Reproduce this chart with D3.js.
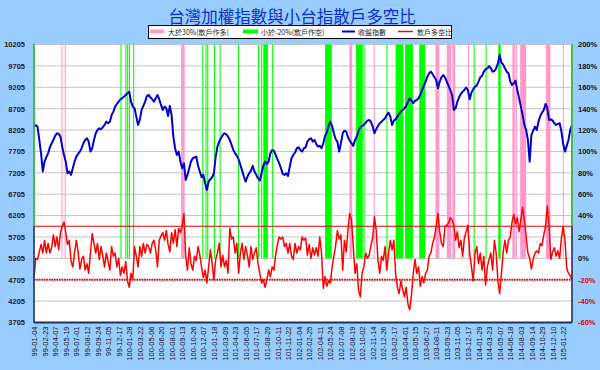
<!DOCTYPE html>
<html>
<head>
<meta charset="utf-8">
<script src="https://cdn.jsdelivr.net/npm/d3@7"></script>
<style>
  body { margin: 0; background: #99ccff; }
  svg { display: block; }
</style>
</head>
<body>
<div id="chart"></div>
<script>
// x axis labels, one every 30 trading days
var dateLabels = ["99-01-04","99-02-23","99-04-07","99-05-19","99-07-01","99-08-12","99-09-24","99-11-05","99-12-17",
  "100-01-28","100-03-22","100-05-06","100-06-20","100-08-01","100-09-13","100-10-26","100-12-07",
  "101-01-18","101-03-09","101-04-23","101-06-05","101-07-17","101-08-29","101-10-11","101-11-22",
  "102-01-04","102-02-25","102-04-11","102-05-24","102-07-08","102-08-19","102-10-02","102-11-14","102-12-26",
  "103-02-17","103-04-01","103-05-15","103-06-27","103-08-11","103-09-23","103-11-05","103-12-17",
  "104-01-29","104-03-23","104-05-07","104-06-18","104-08-03","104-09-14","104-10-29","104-12-10","105-01-22"];

var leftTicks = [3705,4205,4705,5205,5705,6205,6705,7205,7705,8205,8705,9205,9705,10205];
var rightTicks = [-60,-40,-20,0,20,40,60,80,100,120,140,160,180,200];

// 收盤指數, one value every 5 trading days
var closeIndex = [
  8285,8320,8280,7974,7660,7234,7468,7570,7660,7800,
  7896,7974,8070,8130,8115,8052,7818,7623,7468,7195,
  7234,7156,7312,7468,7584,7646,7700,7780,7896,7974,
  8013,7935,7701,7779,7974,8130,8207,8246,8225,8270,
  8324,8402,8363,8400,8558,8636,8753,8815,8869,8925,
  8947,8986,9025,9064,9103,8869,8753,8714,8519,8324,
  8441,8675,8770,8869,9000,9025,8970,8925,8869,8947,
  9025,8925,8792,8675,8753,8714,8535,8770,8558,8052,
  7779,7623,7700,7468,7312,7429,7039,7156,7312,7468,
  7546,7565,7584,7370,7234,7100,7156,6961,6805,7000,
  7055,7100,7195,7584,7818,7935,8013,8091,8130,8105,
  8052,7974,7857,7740,7660,7600,7520,7390,7257,7117,
  7000,7117,7195,7257,7370,7234,7156,7078,7023,7195,
  7370,7468,7410,7468,7662,7740,7725,7623,7520,7429,
  7312,7180,7156,7195,7130,7351,7546,7623,7680,7779,
  7800,7740,7700,7779,7800,7935,7990,8013,7935,7974,
  7880,7818,7835,7779,7896,8070,8145,8300,8402,8300,
  8130,7990,7935,7701,7896,8130,8190,8169,8035,7960,
  7896,7835,7974,8052,8190,8270,8300,8324,8380,8425,
  8441,8402,8285,8130,8225,8300,8363,8395,8441,8480,
  8558,8612,8519,8324,8425,8455,8519,8580,8636,8675,
  8714,8770,8869,8947,8893,8830,8893,8908,8947,9025,
  9142,9235,9337,9453,9531,9570,9508,9438,9376,9181,
  9337,9438,9492,9438,9337,9235,9142,9025,8675,8714,
  8869,8970,9050,9103,9142,9200,9142,8925,9080,9160,
  9220,9250,9337,9438,9470,9570,9625,9648,9700,9648,
  9570,9585,9648,9765,9960,9780,9735,9648,9570,9531,
  9337,9259,9298,9360,9142,8947,8753,8558,8324,8207,
  7974,7468,8091,8190,8285,8207,8402,8535,8612,8675,
  8815,8714,8441,8455,8425,8363,8324,8350,8363,8169,
  7880,7701,7835,7974,8207,8324];

// 散戶多空比 (%), same dates
var retailRatio = [
  -18,0,-1,6,13,5,17,5,14,5,
  10,22,11,20,8,24,30,34,24,13,
  17,-3,-8,5,17,6,-10,-1,2,-11,
  -5,-14,5,23,14,5,14,-1,11,2,
  -8,5,-3,-11,11,2,5,-8,0,-16,
  -8,-14,-3,-21,-27,-14,-20,11,2,-8,
  11,2,14,5,13,11,5,14,17,8,
  -8,17,21,24,17,26,13,6,24,14,
  27,11,28,24,31,42,2,-11,10,-5,
  -11,2,-2,11,3,-8,-18,-11,-23,-8,
  8,-5,-20,-1,5,14,-8,3,-8,-2,
  -14,28,18,20,5,14,-14,5,14,-1,
  11,3,-8,11,-1,5,10,-5,-14,-23,
  -20,-27,-20,-11,-17,-8,-11,3,13,20,
  18,20,11,14,5,14,2,-1,14,5,
  11,8,20,17,19,3,13,0,10,3,
  10,2,20,5,-28,-17,-26,-21,-23,-8,
  2,12,26,18,22,-11,17,6,27,42,
  36,11,-14,-5,-30,-36,-14,-8,5,0,
  3,12,19,39,26,-2,-14,2,-2,11,
  -11,5,17,8,17,-14,-27,-33,-21,-29,
  -36,-27,-43,-48,-34,-14,-1,-14,-8,-26,
  -17,-23,-14,-11,2,5,14,20,30,42,
  25,14,11,30,31,33,38,36,31,17,
  25,10,17,2,19,25,31,5,-8,-21,
  5,11,-5,5,-11,2,-25,-8,-1,5,
  -11,17,5,-21,-33,-14,6,17,5,17,
  20,34,41,32,38,25,36,48,36,20,
  5,0,-10,-1,5,7,5,14,12,22,
  30,49,31,-1,6,10,2,7,0,19,
  30,17,-9,-14,-16,-20];

// trading-day ranges flagged 大於30% (pink) and 小於-20% (green)
var pinkBands = [[78,80],[87,89],[417,426],[894,901],[963,965],[1138,1148],[1170,1182],[1186,1193],
  [1230,1232],[1356,1362],[1365,1368],[1378,1394],[1451,1463],[1499,1500]];
var greenBands = [[245,247],[259,261],[264,266],[269,271],[281,283],[477,479],[486,488],[491,493],
  [510,512],[526,528],[578,580],[635,637],[644,646],[650,662],[675,677],[825,843],[913,931],[934,936],
  [999,1001],[1025,1046],[1052,1073],[1092,1108],[1246,1248],[1280,1282],[1316,1322]];

var dayStep = 5, labelStep = 30, totalDays = 1525;

var margin = {top: 44.5, right: 28, bottom: 47.5, left: 34},
    width = 600 - margin.left - margin.right,
    height = 370 - margin.top - margin.bottom;

var root = d3.select("#chart").append("svg")
    .attr("width", 600)
    .attr("height", 370);

root.append("rect").attr("width", 600).attr("height", 370).attr("fill", "#99ccff");

// title
root.append("text")
    .attr("x", 292).attr("y", 23)
    .attr("text-anchor", "middle")
    .style("font-family", "'Noto Sans CJK TC', 'Noto Sans CJK SC', sans-serif")
    .style("font-size", "16.5px")
    .attr("fill", "#0a2fd0")
    .text("台灣加權指數與小台指散戶多空比");

// legend
var legend = root.append("g").attr("class", "legend")
    .style("font-family", "'Noto Sans CJK TC', sans-serif")
    .style("font-size", "7px");
legend.append("rect").attr("x", 148.5).attr("y", 25.5).attr("width", 303).attr("height", 13)
    .attr("fill", "#fff").attr("stroke", "#000").attr("stroke-width", 1);
legend.append("rect").attr("x", 150).attr("y", 29.5).attr("width", 14).attr("height", 4).attr("fill", "#ff99cc");
legend.append("text").attr("x", 168).attr("y", 34.5).attr("fill", "#222").text("大於30%(散戶作多)");
legend.append("rect").attr("x", 243).attr("y", 29.5).attr("width", 15).attr("height", 4).attr("fill", "#00ff00");
legend.append("text").attr("x", 261).attr("y", 34.5).attr("fill", "#222").text("小於-20%(散戶作空)");
legend.append("line").attr("x1", 342).attr("x2", 355).attr("y1", 31.5).attr("y2", 31.5)
    .attr("stroke", "#0000cc").attr("stroke-width", 2);
legend.append("text").attr("x", 358).attr("y", 34.5).attr("fill", "#222").text("收盤指數");
legend.append("line").attr("x1", 398).attr("x2", 413).attr("y1", 31.5).attr("y2", 31.5)
    .attr("stroke", "#ff0000").attr("stroke-width", 1.5);
legend.append("text").attr("x", 417).attr("y", 34.5).attr("fill", "#222").text("散戶多空比");

var svg = root.append("g")
    .attr("transform", `translate(${margin.left},${margin.top})`);

// scales
var x = d3.scaleLinear().domain([0, totalDays]).range([0, width]);
var yL = d3.scaleLinear().domain([3705, 10205]).range([height, 0]);
var yR = d3.scaleLinear().domain([-60, 200]).range([height, 0]);

// plot area
svg.append("rect").attr("width", width).attr("height", height)
    .attr("fill", "#fff").attr("stroke", "#8a9ab0").attr("stroke-width", 1);

svg.selectAll(".grid").data(leftTicks).enter().append("line")
    .attr("class", "grid")
    .attr("x1", 0).attr("x2", width)
    .attr("y1", d => yL(d)).attr("y2", d => yL(d))
    .attr("stroke", "#c4c4c4").attr("stroke-width", 1);

// flag bands, drawn from 0% up to 200% on the right axis
function drawBands(data, color) {
  svg.append("g").selectAll("rect").data(data).enter().append("rect")
      .attr("x", d => x(d[0]))
      .attr("width", d => Math.max(1, x(d[1] + 1) - x(d[0])))
      .attr("y", yR(200))
      .attr("height", yR(0) - yR(200))
      .attr("fill", color);
}
drawBands(pinkBands, "#ff99cc");
drawBands(greenBands, "#00ff00");

// thresholds
svg.append("line").attr("x1", 0).attr("x2", width).attr("y1", yR(30)).attr("y2", yR(30))
    .attr("stroke", "#e00000").attr("stroke-width", 1.2);
svg.append("line").attr("x1", 0).attr("x2", width).attr("y1", yR(-20)).attr("y2", yR(-20))
    .attr("stroke", "#e00000").attr("stroke-width", 1.8).attr("stroke-dasharray", "1.5,1");

// lines
var indexLine = d3.line().x((d, i) => x(i * dayStep)).y(d => yL(d));
var ratioLine = d3.line().x((d, i) => x(i * dayStep)).y(d => yR(d));

svg.append("path").datum(retailRatio).attr("d", ratioLine)
    .attr("fill", "none").attr("stroke", "#ff0000").attr("stroke-width", 1.5).attr("stroke-linejoin", "round");
svg.append("path").datum(closeIndex).attr("d", indexLine)
    .attr("fill", "none").attr("stroke", "#0000cc").attr("stroke-width", 2).attr("stroke-linejoin", "round");

// axes
var axisFont = "'Liberation Sans', Arial, sans-serif";

svg.append("g").call(d3.axisLeft(yL).tickValues(leftTicks).tickSize(0).tickPadding(9).tickFormat(d => String(d)))
    .call(g => g.select(".domain").remove())
    .selectAll("text")
    .style("font-family", axisFont).style("font-size", "7.5px").style("font-weight", "bold")
    .attr("fill", "#222");

svg.append("g").attr("transform", `translate(${width},0)`)
    .call(d3.axisRight(yR).tickValues(rightTicks).tickSize(0).tickPadding(6).tickFormat(d => d + "%"))
    .call(g => g.select(".domain").remove())
    .selectAll("text")
    .style("font-family", axisFont).style("font-size", "7.5px").style("font-weight", "bold")
    .attr("fill", d => d < 0 ? "#e00000" : "#111");

svg.append("g").attr("transform", `translate(0,${height})`)
    .call(d3.axisBottom(x).tickValues(dateLabels.map((d, i) => i * labelStep)).tickSize(0)
      .tickFormat((d, i) => dateLabels[i]))
    .call(g => g.select(".domain").remove())
    .selectAll("text")
    .attr("transform", "rotate(-90)")
    .attr("x", -4).attr("y", 0).attr("dy", "0.35em")
    .style("text-anchor", "end")
    .style("font-family", axisFont).style("font-size", "7.5px")
    .attr("fill", "#111");

// axis lines (dark), green at the top of the side edges
svg.append("line").attr("x1", 0).attr("x2", 0).attr("y1", 0).attr("y2", height)
    .attr("stroke", "#1f3355").attr("stroke-width", 1.5);
svg.append("line").attr("x1", width).attr("x2", width).attr("y1", 0).attr("y2", height)
    .attr("stroke", "#1f3355").attr("stroke-width", 1.5);
svg.append("line").attr("x1", 0).attr("x2", width).attr("y1", height).attr("y2", height)
    .attr("stroke", "#1f3355").attr("stroke-width", 2);
[0, width].forEach(function(px) {
  svg.append("line").attr("x1", px).attr("x2", px).attr("y1", 0).attr("y2", yR(30))
      .attr("stroke", "#44dd44").attr("stroke-width", 1.5);
});
</script>
</body>
</html>
